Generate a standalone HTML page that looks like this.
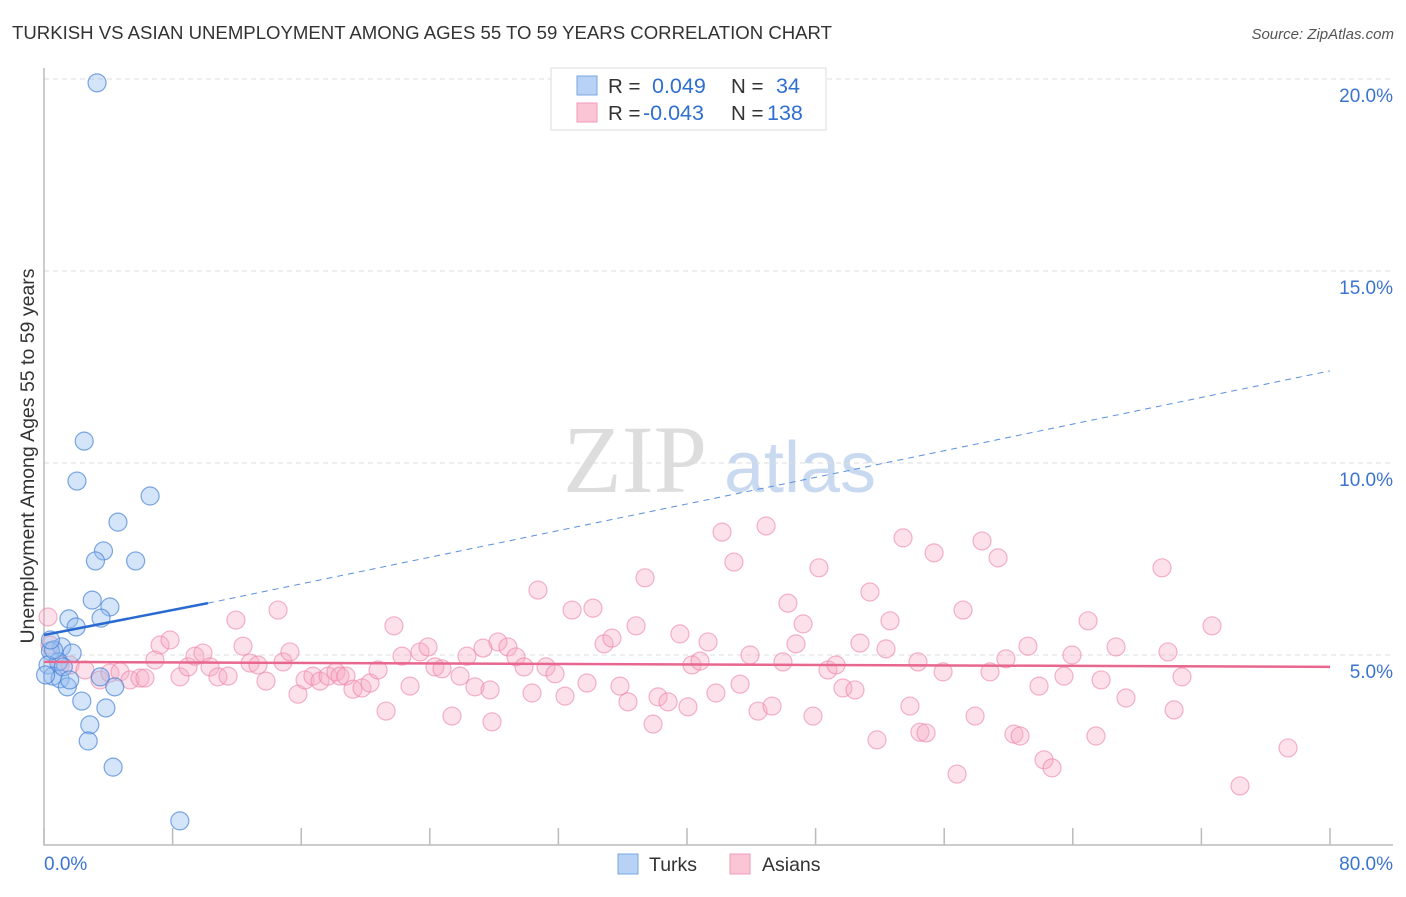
<!DOCTYPE html>
<html><head><meta charset="utf-8"><style>
body{margin:0;background:#fff;font-family:"Liberation Sans",sans-serif;}
</style></head><body>
<svg id="chart" width="1406" height="892" xmlns="http://www.w3.org/2000/svg" font-family="Liberation Sans, sans-serif">
<text x="12" y="39" font-size="18.6" fill="#333" textLength="820">TURKISH VS ASIAN UNEMPLOYMENT AMONG AGES 55 TO 59 YEARS CORRELATION CHART</text>
<text x="1394" y="39" font-size="15" fill="#555" font-style="italic" text-anchor="end">Source: ZipAtlas.com</text>
<text x="34" y="456" font-size="19.5" fill="#333" text-anchor="middle" transform="rotate(-90 34 456)">Unemployment Among Ages 55 to 59 years</text>
<g><text x="635" y="492" font-size="96" fill="#ddd" font-family="Liberation Serif, serif" text-anchor="middle">ZIP</text><text x="800" y="492" font-size="72" fill="#c9daf0" text-anchor="middle">atlas</text></g>
<g id="grid"></g><g id="axes"></g><g id="marks"></g>
<g>
<rect x="551" y="68" width="275" height="62" fill="#fff" stroke="#ddd"/>
<rect x="577" y="76" width="20" height="19" fill="#b7d2f5" stroke="#7aa6e3"/>
<rect x="577" y="103" width="20" height="19" fill="#fac6d6" stroke="#f09ab6"/>
<text x="608" y="93" font-size="20.5" fill="#333">R = </text><text x="652" y="93" font-size="21.5" fill="#2f6fd0">0.049</text>
<text x="731" y="93" font-size="20.5" fill="#333">N = </text><text x="776" y="93" font-size="21.5" fill="#2f6fd0">34</text>
<text x="608" y="120" font-size="20.5" fill="#333">R = </text><text x="643" y="120" font-size="21.5" fill="#2f6fd0">-0.043</text>
<text x="731" y="120" font-size="20.5" fill="#333">N = </text><text x="767" y="120" font-size="21.5" fill="#2f6fd0">138</text>
</g>
<g>
<rect x="618" y="854" width="20" height="20" fill="#b7d2f5" stroke="#7aa6e3"/><text x="649" y="871" font-size="19.5" fill="#333">Turks</text>
<rect x="730" y="854" width="20" height="20" fill="#fac6d6" stroke="#f09ab6"/><text x="762" y="871" font-size="19.5" fill="#333">Asians</text>
</g>
</svg>
<script>
const yTicks=[5,10,15,20];
const xTickVals=[0,8,16,24,32,40,48,56,64,72,80];
const xLabels=["0.0%","80.0%"];
const turksX=[3.3,2.5,2.05,6.6,4.6,3.7,3.2,5.7,3.0,4.1,1.55,3.55,2.0,1.1,1.75,0.4,0.9,0.25,0.55,1.0,1.45,3.5,4.4,2.35,3.85,2.85,2.75,4.3,8.45,0.1,0.6,1.2,1.6,0.4];
const turksY=[19.9,10.57,9.53,9.14,8.46,7.71,7.45,7.45,6.43,6.25,5.94,5.96,5.73,5.21,5.05,5.1,4.82,4.74,4.45,4.38,4.17,4.43,4.17,3.8,3.62,3.18,2.76,2.08,0.68,4.48,5.13,4.69,4.35,5.39];
const asiansX=[0.25,0.37,1.0,1.62,2.55,3.48,4.1,4.73,5.35,5.97,6.28,6.9,7.22,7.84,8.46,8.96,9.39,9.89,10.33,10.82,11.45,11.94,12.38,12.82,13.31,13.81,14.56,14.87,15.3,15.8,16.24,16.73,17.17,17.67,18.16,18.41,18.79,19.22,19.78,20.28,20.78,21.28,21.77,22.27,22.77,23.39,23.89,24.32,24.76,25.38,25.88,26.31,26.81,27.31,27.87,28.24,28.86,29.36,29.86,30.36,30.73,31.23,31.79,32.41,32.85,33.78,34.15,34.84,35.33,35.83,36.33,36.83,37.39,37.89,38.2,38.82,39.56,40.06,40.31,40.81,41.31,41.8,42.18,42.92,43.3,43.92,44.42,44.92,45.29,45.97,46.28,46.78,47.22,47.84,48.21,48.77,49.27,49.7,50.45,50.76,51.38,51.82,52.38,52.63,53.44,53.87,54.37,54.49,54.87,55.37,55.93,56.8,57.17,57.92,58.35,58.85,59.35,59.84,60.34,60.72,61.21,61.9,62.21,62.71,63.45,63.95,64.95,65.44,65.76,66.69,67.31,69.55,69.92,70.3,70.79,72.66,74.4,77.39,27.75];
const asiansY=[5.99,5.26,4.74,4.74,4.61,4.35,4.53,4.56,4.35,4.4,4.4,4.87,5.26,5.39,4.43,4.69,4.97,5.05,4.69,4.43,4.45,5.91,5.23,4.79,4.74,4.32,6.17,4.82,5.08,3.98,4.35,4.45,4.32,4.45,4.56,4.45,4.45,4.11,4.14,4.27,4.61,3.54,5.76,4.97,4.19,5.08,5.21,4.69,4.64,3.41,4.45,4.97,4.17,5.18,3.26,5.34,5.21,4.95,4.69,4.01,6.69,4.69,4.51,3.93,6.17,4.27,6.22,5.29,5.44,4.19,3.78,5.76,7.01,3.2,3.91,3.78,5.55,3.65,4.74,4.84,5.34,4.01,8.2,7.42,4.24,5.0,3.54,8.36,3.67,4.82,6.35,5.29,5.81,3.41,7.27,4.61,4.74,4.14,4.09,5.31,6.64,2.79,5.16,5.89,8.05,3.67,4.82,2.99,2.97,7.66,4.56,1.9,6.17,3.41,7.97,4.56,7.53,4.9,2.94,2.89,5.23,4.19,2.27,2.06,4.45,5.0,5.89,2.89,4.35,5.21,3.88,7.27,5.08,3.57,4.43,5.76,1.59,2.58,4.09];
const turksTrend=[[0,5.52],[10.2,6.35],[80,12.4]];
const asiansTrend=[[0,4.82],[80,4.69]];
const X=v=>44+v*(1286/80), Y=v=>847-v*38.4;
const NS="http://www.w3.org/2000/svg";
function mk(tag,attrs,parent){const e=document.createElementNS(NS,tag);for(const k in attrs)e.setAttribute(k,attrs[k]);document.getElementById(parent).appendChild(e);return e;}
yTicks.forEach(t=>{
 const l=mk('line',{x1:44,x2:1393,y1:Y(t),y2:Y(t),stroke:'#ddd','stroke-dasharray':'5,4'},'grid');
 
 
 const tx=mk('text',{x:1393,y:Y(t)+23,'font-size':19,fill:'#3a74d0','text-anchor':'end'},'grid');
 tx.textContent=t.toFixed(1)+'%';
 
 
});
const ax=mk('path',{d:'M44 68 V845 H1393',fill:'none',stroke:'#bbb','stroke-width':1.5},'axes');


xTickVals.forEach(t=>{
 const l=mk('line',{x1:X(t),x2:X(t),y1:828,y2:845,stroke:'#bbb','stroke-width':1.5},'axes');
 
 
});
[[0,xLabels[0],'start',44],[80,xLabels[1],'end',1393]].forEach(([v,s,a,px])=>{
 const tx=mk('text',{x:px,y:870,'font-size':19,fill:'#3a74d0','text-anchor':a},'axes');
 tx.textContent=s;
 
 
});
asiansX.forEach((x,i)=>{
 const c=mk('circle',{cx:X(x),cy:Y(asiansY[i]),r:9,fill:'rgba(247,170,195,0.35)',stroke:'rgba(236,130,165,0.6)','stroke-width':1.2},'marks');
 
 
});
turksX.forEach((x,i)=>{
 const c=mk('circle',{cx:X(x),cy:Y(turksY[i]),r:9,fill:'rgba(150,190,240,0.4)',stroke:'rgba(70,130,215,0.7)','stroke-width':1.2},'marks');
 
 
});
const pl=mk('line',{x1:X(asiansTrend[0][0]),y1:Y(asiansTrend[0][1]),x2:X(asiansTrend[1][0]),y2:Y(asiansTrend[1][1]),stroke:'#e8678f','stroke-width':2.5},'marks');


const bl=mk('line',{x1:X(turksTrend[0][0]),y1:Y(turksTrend[0][1]),x2:X(turksTrend[1][0]),y2:Y(turksTrend[1][1]),stroke:'#2a6ad0','stroke-width':2.5},'marks');


const bd=mk('line',{x1:X(turksTrend[1][0]),y1:Y(turksTrend[1][1]),x2:X(turksTrend[2][0]),y2:Y(turksTrend[2][1]),stroke:'#5a8fdc','stroke-width':1,'stroke-dasharray':'6,5'},'marks');


</script>
</body></html>
